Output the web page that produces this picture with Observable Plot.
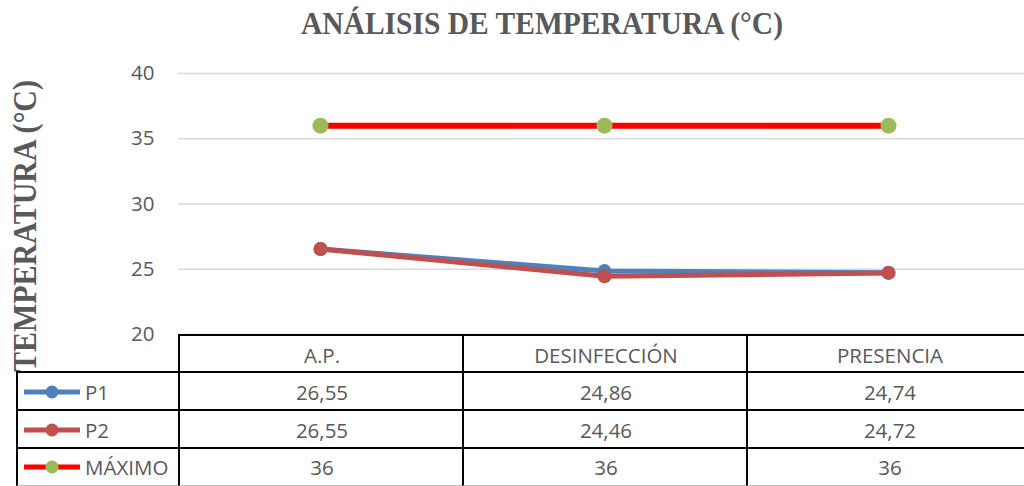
<!DOCTYPE html>
<html><head><meta charset="utf-8">
<script src="https://cdn.jsdelivr.net/npm/d3@7"></script>
<script src="https://cdn.jsdelivr.net/npm/@observablehq/plot@0.6"></script>
<style>
html,body{margin:0;padding:0;background:#fff;overflow:hidden}
#chart{position:relative;width:1024px;height:486px;overflow:hidden;background:#fff}
#chart svg.main{position:absolute;left:0;top:0}
.cell{position:absolute;box-sizing:border-box;display:flex;align-items:center;justify-content:center;font-family:"Open Sans";font-size:20.5px;color:#595959;background:#fff;border-left:2px solid #000;border-top:2px solid #000}
.cell.leg{justify-content:flex-start}
.cell.last{border-bottom:1px solid #bfbfbf}
</style></head><body><div id="chart"></div>
<script>
const categories = ["A.P.", "DESINFECCIÓN", "PRESENCIA"];
const p1 = [26.55, 24.86, 24.74];
const p2 = [26.55, 24.46, 24.72];
const maximo = [36, 36, 36];
const seriesNames = ["P1", "P2", "MÁXIMO"];
const seriesValues = [p1, p2, maximo];
const yTicks = [20, 25, 30, 35, 40];

const lineColors = ["#4f81bd", "#c0504d", "#ff0000"];
const dotColors = ["#4f81bd", "#c0504d", "#9bbb59"];
const lineWidths = [5, 5, 6];
const dotRadii = [7, 7, 8];

const seriesRows = seriesNames.map((s, i) => categories.map((c, j) => ({series: s, cat: c, value: seriesValues[i][j]})));

const marks = [
  Plot.ruleY(yTicks, {stroke: "#d9d9d9", strokeWidth: 1.5}),
  Plot.axisY({ticks: yTicks, tickSize: 0, tickPadding: 24, fontSize: 20.5, fontFamily: "Open Sans", fill: "#595959", label: null})
];
seriesRows.forEach((rows, i) => {
  marks.push(Plot.line(rows, {x: "cat", y: "value", stroke: lineColors[i], strokeWidth: lineWidths[i]}));
  marks.push(Plot.dot(rows, {x: "cat", y: "value", r: dotRadii[i], fill: dotColors[i], stroke: "none"}));
});

const plot = Plot.plot({
  width: 1024,
  height: 486,
  marginTop: 73,
  marginBottom: 152,
  marginLeft: 178,
  marginRight: 0,
  x: {type: "point", domain: categories, range: [178, 1030], padding: 0.5, axis: null},
  y: {domain: [20, 40], axis: null},
  style: {background: "#fff", overflow: "visible"},
  marks
});
plot.classList.add("main");

const svg = d3.select(plot);
svg.append("text")
  .attr("x", 542).attr("y", 34)
  .attr("text-anchor", "middle")
  .attr("font-family", "Liberation Serif")
  .attr("font-weight", "bold")
  .attr("font-size", 32)
  .attr("fill", "#595959")
  .attr("textLength", 482).attr("lengthAdjust", "spacingAndGlyphs")
  .text("ANÁLISIS DE TEMPERATURA (°C)");
svg.append("text")
  .attr("transform", "translate(36,226) rotate(-90)")
  .attr("text-anchor", "middle")
  .attr("font-family", "Liberation Serif")
  .attr("font-weight", "bold")
  .attr("font-size", 34)
  .attr("fill", "#595959")
  .attr("textLength", 292).attr("lengthAdjust", "spacingAndGlyphs")
  .text("TEMPERATURA (°C)");

const chart = document.getElementById("chart");
chart.appendChild(plot);

// data table under the plot, aligned to the plot scales
const xs = plot.scale("x"), ys = plot.scale("y");
const step = xs.apply(categories[1]) - xs.apply(categories[0]);
const tableTop = ys.apply(20);
const headerH = 37, rowH = 38;
const legLeft = 16, legRight = xs.apply(categories[0]) - step / 2;

function cell(left, top, w, h, cls) {
  const d = document.createElement("div");
  d.className = "cell" + (cls ? " " + cls : "");
  Object.assign(d.style, {left: left + "px", top: top + "px", width: w + "px", height: h + "px"});
  chart.appendChild(d);
  return d;
}
categories.forEach(c => {
  cell(xs.apply(c) - step / 2, tableTop, step + 2, headerH + 2).textContent = c;
});
seriesNames.forEach((s, i) => {
  const top = tableTop + headerH + i * rowH;
  const last = i === seriesNames.length - 1 ? "last" : "";
  const h = last ? rowH + 1 : rowH + 2;
  const lg = cell(legLeft, top, legRight - legLeft + 2, h, "leg " + last);
  lg.innerHTML = `<svg width="64" height="16" style="margin-left:4px;flex:none"><line x1="2" x2="58" y1="8" y2="8" stroke="${lineColors[i]}" stroke-width="5"/><circle cx="30" cy="8" r="6.5" fill="${dotColors[i]}"/></svg><span style="margin-left:-1px">${s}</span>`;
  categories.forEach((c, j) => {
    cell(xs.apply(c) - step / 2, top, step + 2, h, last).textContent = String(seriesValues[i][j]).replace(".", ",");
  });
});
</script></body></html>
